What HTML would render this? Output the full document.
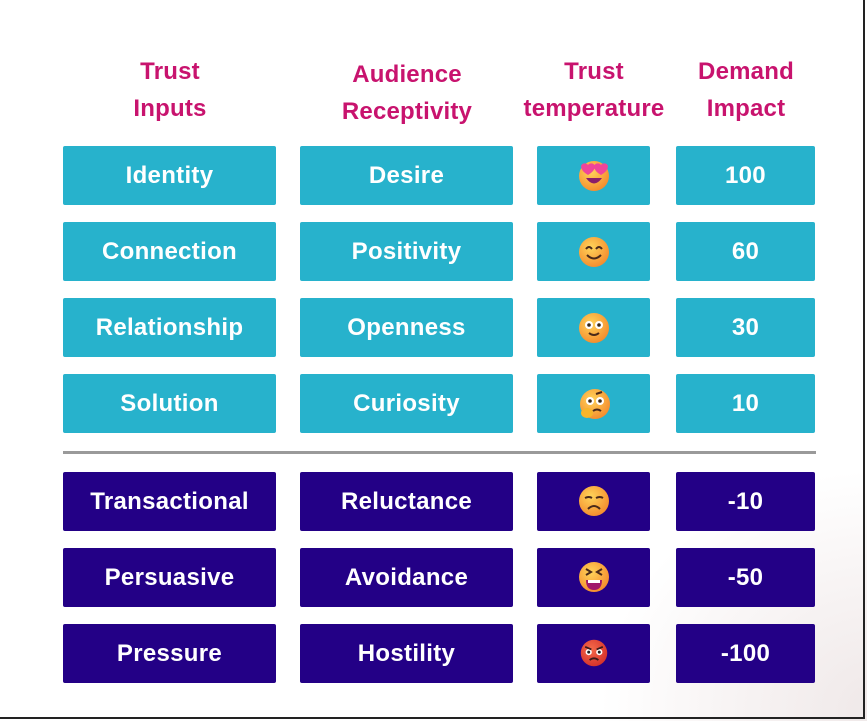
<!DOCTYPE html>
<html><head><meta charset="utf-8"><style>
html,body{margin:0;padding:0}
body{width:867px;height:721px;position:relative;background:#fff;overflow:hidden;font-family:"Liberation Sans",sans-serif}
.bg{position:absolute;left:0;top:0;width:867px;height:721px;background:radial-gradient(ellipse 280px 240px at 880px 710px,#efe8e8 0%,#f7f3f3 50%,rgba(255,255,255,0) 100%)}
.frame{position:absolute;left:0;top:0;width:863px;height:717px;border-right:2px solid #222;border-bottom:2px solid #222}
.h{position:absolute;color:#c8136e;font-weight:bold;font-size:24px;text-align:center;line-height:37px;letter-spacing:0.2px}
.b{position:absolute;height:59px;border-radius:2px;color:#fff;font-weight:bold;font-size:24px;display:flex;align-items:center;justify-content:center;letter-spacing:0.3px}
.t{background:#27b2cc}
.d{background:#230086}
.sep{position:absolute;left:63px;top:451px;width:753px;height:3px;background:#9a9a9a}
svg{display:block}
</style></head><body>
<div class="bg"></div>
<div class="h" style="left:70px;top:53px;width:200px">Trust<br>Inputs</div>
<div class="h" style="left:307px;top:56px;width:200px">Audience<br>Receptivity</div>
<div class="h" style="left:504px;top:53px;width:180px">Trust<br>temperature</div>
<div class="h" style="left:646px;top:53px;width:200px">Demand<br>Impact</div>

<div class="b t" style="left:63px;top:146px;width:213px">Identity</div>
<div class="b t" style="left:300px;top:146px;width:213px">Desire</div>
<div class="b t" style="left:537px;top:146px;width:113px"></div>
<div class="b t" style="left:676px;top:146px;width:139px">100</div>

<div class="b t" style="left:63px;top:222px;width:213px">Connection</div>
<div class="b t" style="left:300px;top:222px;width:213px">Positivity</div>
<div class="b t" style="left:537px;top:222px;width:113px"></div>
<div class="b t" style="left:676px;top:222px;width:139px">60</div>

<div class="b t" style="left:63px;top:298px;width:213px">Relationship</div>
<div class="b t" style="left:300px;top:298px;width:213px">Openness</div>
<div class="b t" style="left:537px;top:298px;width:113px"></div>
<div class="b t" style="left:676px;top:298px;width:139px">30</div>

<div class="b t" style="left:63px;top:374px;width:213px">Solution</div>
<div class="b t" style="left:300px;top:374px;width:213px">Curiosity</div>
<div class="b t" style="left:537px;top:374px;width:113px"></div>
<div class="b t" style="left:676px;top:374px;width:139px">10</div>

<div class="sep"></div>

<div class="b d" style="left:63px;top:472px;width:213px">Transactional</div>
<div class="b d" style="left:300px;top:472px;width:213px">Reluctance</div>
<div class="b d" style="left:537px;top:472px;width:113px"></div>
<div class="b d" style="left:676px;top:472px;width:139px">-10</div>

<div class="b d" style="left:63px;top:548px;width:213px">Persuasive</div>
<div class="b d" style="left:300px;top:548px;width:213px">Avoidance</div>
<div class="b d" style="left:537px;top:548px;width:113px"></div>
<div class="b d" style="left:676px;top:548px;width:139px">-50</div>

<div class="b d" style="left:63px;top:624px;width:213px">Pressure</div>
<div class="b d" style="left:300px;top:624px;width:213px">Hostility</div>
<div class="b d" style="left:537px;top:624px;width:113px"></div>
<div class="b d" style="left:676px;top:624px;width:139px">-100</div>

<svg width="0" height="0" style="position:absolute"><defs>
<radialGradient id="g" cx="40%" cy="35%" r="70%"><stop offset="0" stop-color="#ffd45a"/><stop offset="1" stop-color="#f48a2c"/></radialGradient>
<radialGradient id="gr" cx="40%" cy="35%" r="70%"><stop offset="0" stop-color="#f56a4a"/><stop offset="1" stop-color="#d4302a"/></radialGradient>
</defs></svg>

<svg style="position:absolute;left:577px;top:158px" width="34" height="34" viewBox="0 0 34 34"><circle cx="17" cy="18" r="15" fill="url(#g)"/><path d="M9 20 Q17 31 25 20 Z" fill="#8a1d6a"/><path d="M5 8 a4 4 0 0 1 7 -1 a4 4 0 0 1 7 1 q0 5 -7 9 q-7 -4 -7 -9z" fill="#f0459a" transform="translate(-1,0)"/><path d="M5 8 a4 4 0 0 1 7 -1 a4 4 0 0 1 7 1 q0 5 -7 9 q-7 -4 -7 -9z" fill="#f0459a" transform="translate(12,0)"/></svg>
<svg style="position:absolute;left:577px;top:235px" width="34" height="34" viewBox="0 0 34 34"><circle cx="17" cy="17" r="15" fill="url(#g)"/><path d="M9 14 q3 -4 6 0 M19 14 q3 -4 6 0" stroke="#4a2a1a" stroke-width="2" fill="none"/><path d="M10 20 q7 7 14 0" stroke="#4a2a1a" stroke-width="2" fill="none"/></svg>
<svg style="position:absolute;left:577px;top:311px" width="34" height="34" viewBox="0 0 34 34"><circle cx="17" cy="17" r="15" fill="url(#g)"/><circle cx="12" cy="14" r="4" fill="#fff"/><circle cx="22" cy="14" r="4" fill="#fff"/><circle cx="12" cy="14" r="1.8" fill="#3a2a1a"/><circle cx="22" cy="14" r="1.8" fill="#3a2a1a"/><path d="M12 22 q5 4 10 0" stroke="#4a2a1a" stroke-width="2" fill="none"/></svg>
<svg style="position:absolute;left:577px;top:387px" width="34" height="34" viewBox="0 0 34 34"><circle cx="18" cy="17" r="15" fill="url(#g)"/><circle cx="13" cy="14" r="4" fill="#fff"/><circle cx="23" cy="14" r="4" fill="#fff"/><circle cx="13" cy="14" r="1.8" fill="#3a2a1a"/><circle cx="23" cy="14" r="1.8" fill="#3a2a1a"/><path d="M19 7 l6 -2" stroke="#4a2a1a" stroke-width="2"/><path d="M16 24 q4 -3 8 0" stroke="#4a2a1a" stroke-width="2" fill="none"/><ellipse cx="10" cy="26" rx="6" ry="5" fill="#f6b52a"/></svg>
<svg style="position:absolute;left:577px;top:484px" width="34" height="34" viewBox="0 0 34 34"><circle cx="17" cy="17" r="15" fill="url(#g)"/><path d="M8 14 q4 -2 7 0 M19 14 q4 -2 7 0" stroke="#4a2a1a" stroke-width="2" fill="#fff"/><path d="M11 25 q6 -6 12 0" stroke="#4a2a1a" stroke-width="2" fill="none"/></svg>
<svg style="position:absolute;left:577px;top:560px" width="34" height="34" viewBox="0 0 34 34"><circle cx="17" cy="17" r="15" fill="url(#g)"/><path d="M9 9 l5 3 -5 3 M25 9 l-5 3 5 3" stroke="#4a2a1a" stroke-width="2" fill="none"/><path d="M9 20 h16 q0 10 -8 10 q-8 0 -8 -10z" fill="#a0186a"/><rect x="11" y="20" width="12" height="3" fill="#fff"/></svg>
<svg style="position:absolute;left:579px;top:638px" width="30" height="30" viewBox="0 0 34 34"><circle cx="17" cy="17" r="15" fill="url(#gr)"/><circle cx="11" cy="16" r="3.5" fill="#fff"/><circle cx="23" cy="16" r="3.5" fill="#fff"/><circle cx="11" cy="16" r="1.7" fill="#222"/><circle cx="23" cy="16" r="1.7" fill="#222"/><path d="M7 10 l7 3 M27 10 l-7 3" stroke="#3a1a1a" stroke-width="2"/><path d="M12 25 q5 -4 10 0" stroke="#3a1a1a" stroke-width="2" fill="none"/></svg>

<div class="frame"></div>
</body></html>
